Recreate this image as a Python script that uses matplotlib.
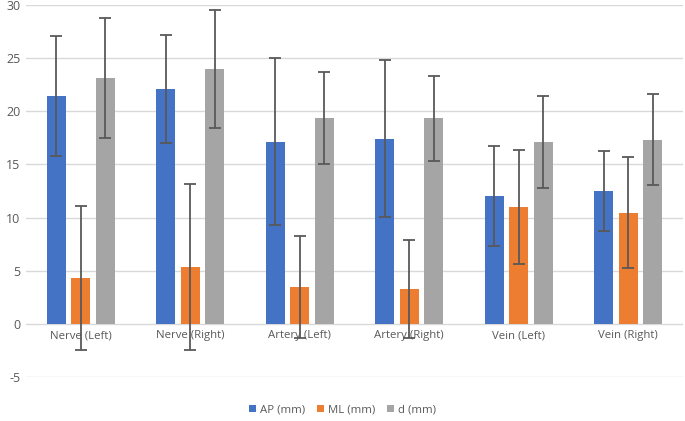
import matplotlib
matplotlib.use("Agg")
import matplotlib.pyplot as plt
import numpy as np
from matplotlib.patches import Patch

categories = ["Nerve (Left)", "Nerve (Right)", "Artery (Left)", "Artery (Right)", "Vein (Left)", "Vein (Right)"]
series_names = ["AP (mm)", "ML (mm)", "d (mm)"]
ap_mean = [21.45, 22.1, 17.15, 17.43, 12.07, 12.48]
ap_sd = [5.65, 5.1, 7.85, 7.4, 4.7, 3.75]
ml_mean = [4.3, 5.35, 3.45, 3.26, 11.0, 10.47]
ml_sd = [6.8, 7.8, 4.8, 4.6, 5.4, 5.25]
d_mean = [23.1, 24.0, 19.35, 19.35, 17.1, 17.34]
d_sd = [5.65, 5.55, 4.3, 4.0, 4.3, 4.25]
yticks = [-5, 0, 5, 10, 15, 20, 25, 30]

colors = ["#4472C4", "#ED7D31", "#A5A5A5"]
plt.rcParams['font.family'] = ['Open Sans', 'DejaVu Sans']

fig = plt.figure(figsize=(6.85, 4.21), dpi=100)
ax = fig.add_axes([26/685, 44/421, 657/685, 372/421])

x = np.arange(len(categories))
width = 0.174
offsets = [-0.224, 0, 0.224]
means = [ap_mean, ml_mean, d_mean]
sds = [ap_sd, ml_sd, d_sd]
for i in range(3):
    ax.bar(x + offsets[i], means[i], width, color=colors[i], zorder=2)
    ax.errorbar(x + offsets[i], means[i], yerr=sds[i], fmt='none', ecolor='#595959',
                elinewidth=1.3, capsize=4, capthick=1.3, zorder=3)

ax.set_xlim(-0.5, len(categories) - 0.5)
ax.set_ylim(-5, 30)
ax.set_yticks(yticks)
ax.set_yticklabels([str(t) for t in yticks])
ax.tick_params(axis='y', length=0, labelsize=9, labelcolor='#595959', pad=4)
ax.set_xticks([])
for s in ax.spines.values():
    s.set_visible(False)
ax.grid(axis='y', color='#D9D9D9', linewidth=1, zorder=0)
ax.set_axisbelow(True)

for i, c in enumerate(categories):
    ax.text(i, -0.6, c, ha='center', va='top', fontsize=8.2, color='#595959', zorder=1)

handles = [Patch(facecolor=colors[i], edgecolor='none') for i in range(3)]
fig.legend(handles, series_names, loc='center', bbox_to_anchor=(0.5, 11/421), ncol=3,
           frameon=False, fontsize=8.2, handlelength=0.6, handleheight=0.6,
           handletextpad=0.3, columnspacing=1.1, labelcolor='#595959')

fig.savefig("out.png", dpi=100)
